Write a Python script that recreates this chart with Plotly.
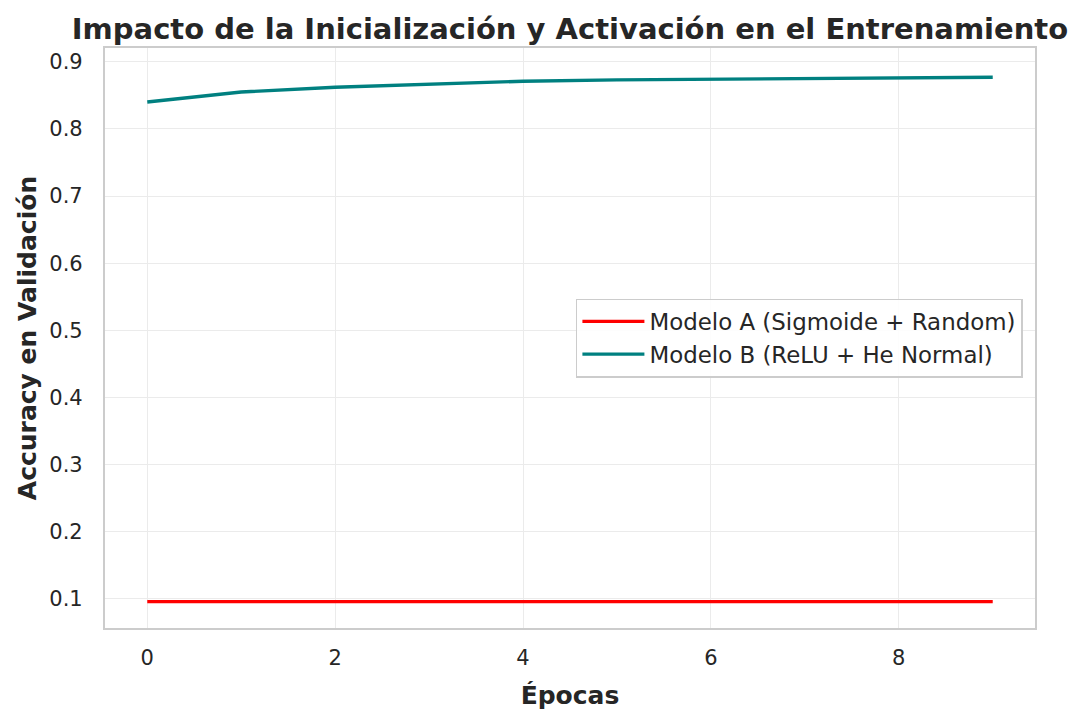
import plotly.graph_objects as go

epocas = list(range(10))
modelo_a = [0.0958] * 10
modelo_b = [0.840, 0.855, 0.862, 0.867, 0.871, 0.873, 0.874, 0.876, 0.877, 0.877]
nombres = ["Modelo A (Sigmoide + Random)", "Modelo B (ReLU + He Normal)"]
colores = ["#ff0000", "#008080"]

fig = go.Figure()
for ys, name, c in zip([modelo_a, modelo_b], nombres, colores):
    fig.add_trace(go.Scatter(x=epocas, y=ys, mode="lines", name=name,
                             line=dict(color=c, width=3.4)))

font = "DejaVu Sans"
fig.update_layout(
    width=1085, height=722,
    margin=dict(l=105, r=50, t=48, b=94),
    paper_bgcolor="white", plot_bgcolor="white",
    font=dict(family=font, size=21, color="#262626"),
    title=dict(text="<b>Impacto de la Inicialización y Activación en el Entrenamiento</b>",
               x=(105 + 1035) / 2 / 1085, xanchor="center", y=1 - 29 / 722, yanchor="middle",
               font=dict(size=29, color="#262626")),
    xaxis=dict(range=[-0.45, 9.45], tickvals=[0, 2, 4, 6, 8], showgrid=True,
               gridcolor="#ebebeb", gridwidth=1.3, zeroline=False, showline=True,
               linecolor="#cccccc", linewidth=2.2, mirror=True, ticks="",
               ticklabelstandoff=10,
               title=dict(text="<b>Épocas</b>", font=dict(size=25), standoff=17)),
    yaxis=dict(range=[0.0565, 0.9205], tickvals=[0.1, 0.2, 0.3, 0.4, 0.5, 0.6, 0.7, 0.8, 0.9],
               tickformat=".1f", showgrid=True, gridcolor="#ebebeb", gridwidth=1.3,
               zeroline=False, showline=True, linecolor="#cccccc", linewidth=2.2,
               mirror=True, ticks="", ticklabelstandoff=16,
               title=dict(text="<b>Accuracy en Validación</b>", font=dict(size=25), standoff=6)),
    legend=dict(x=0.987, xanchor="right", y=0.5, yanchor="middle",
                bgcolor="rgba(255,255,255,0.9)", bordercolor="#cccccc", borderwidth=1.5,
                font=dict(size=22.9), itemwidth=62, tracegroupgap=0),
    showlegend=True,
)
fig.write_html("out.html")
